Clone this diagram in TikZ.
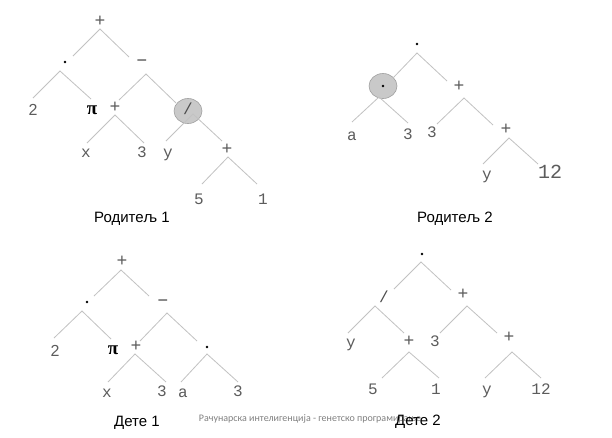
\documentclass[tikz,border=0pt]{standalone}
\usepackage{fontspec}
\setmainfont{Liberation Sans}
\newfontfamily\monofont{Liberation Mono}
\newfontfamily\pifont{Liberation Serif}
\newfontfamily\footfont{Carlito}
\usetikzlibrary{shapes.geometric}

\definecolor{edgegray}{HTML}{C2C2C2}
\definecolor{leafgray}{HTML}{5C5C5C}
\definecolor{markfill}{HTML}{C9C9C9}
\definecolor{markline}{HTML}{A0A0A0}

\tikzset{
  edge/.style={draw=edgegray, line width=0.8pt},
  leaf/.style={inner sep=0pt, text=leafgray, font=\monofont\fontsize{16}{16}\selectfont,
               text height=0.6em, text depth=0pt},
  bigleaf/.style={leaf, font=\monofont\fontsize{20}{20}\selectfont},
  op/.style={leaf, font=\monofont\fontsize{18}{18}\selectfont},
  slash/.style={leaf, text=black!70, font=\monofont\fontsize{16}{16}\selectfont},
  minus/.style={inner sep=0pt, text=black!70, font=\fontsize{18}{18}\selectfont},
  num/.style={leaf, font=\fontsize{16}{16}\selectfont},
  dotop/.style={circle, fill=black, inner sep=0pt, minimum size=2.8pt},
  pinode/.style={inner sep=0pt, font=\pifont\bfseries\fontsize{19}{19}\selectfont,
                 text height=0.45em, text depth=0pt},
  marked/.style={ellipse, fill=markfill, draw=markline, line width=0.6pt,
                 minimum width=28pt, minimum height=25pt, inner sep=0pt},
  caption/.style={inner sep=0pt, font=\fontsize{15}{15}\selectfont},
  footer/.style={inner sep=0pt, text=black!50, font=\footfont\fontsize{10}{10}\selectfont},
}

\begin{document}
\begin{tikzpicture}[x=1pt, y=-1pt]
\useasboundingbox[fill=white] (0,0) rectangle (612,437);

% ---------- Родитељ 1 ----------
\node[op]     (p1r)   at (100,23)  {+};
\node[dotop]  (p1m)   at (65,62)   {};
\node[minus]  (p1s)   at (142,63)  {−};
\node[num]    (p1two) at (33,112)  {2};
\node[pinode] (p1pi)  at (92,112)  {π};
\node[op]     (p1p)   at (115,109) {+};
\node[marked] (p1d)   at (188,111) {};
\node[slash]  (p1d-t) at (188,111) {/};
\node[leaf]   (p1x)   at (86,154)  {x};
\node[leaf]   (p1t)   at (142,154) {3};
\node[leaf]   (p1y)   at (168,154) {y};
\node[op]     (p1q)   at (227,151) {+};
\node[leaf]   (p1f)   at (199,201) {5};
\node[leaf]   (p1o)   at (263,201) {1};
\node[caption] (p1c)  at (132,219) {Родитељ 1};

\coordinate (p1r-a) at (100,29);  \coordinate (p1m-e) at (73,56);   \coordinate (p1s-e) at (129,57);
\coordinate (p1m-a) at (60,71);   \coordinate (p1two-e) at (33,98); \coordinate (p1pi-e) at (91,99);
\coordinate (p1s-a) at (146,74);  \coordinate (p1p-e) at (119,100); \coordinate (p1d-e) at (176,103);
\coordinate (p1p-a) at (115,115); \coordinate (p1x-e) at (87,143);  \coordinate (p1t-e) at (144,143);
\coordinate (p1d-a) at (193,114); \coordinate (p1y-e) at (166,141); \coordinate (p1q-e) at (222,141);
\coordinate (p1q-a) at (228,157); \coordinate (p1f-e) at (202,184); \coordinate (p1o-e) at (257,184);

\draw[edge] (p1m-e) -- (p1r-a) -- (p1s-e);
\draw[edge] (p1two-e) -- (p1m-a) -- (p1pi-e);
\draw[edge] (p1p-e) -- (p1s-a) -- (p1d-e);
\draw[edge] (p1x-e) -- (p1p-a) -- (p1t-e);
\draw[edge] (p1y-e) -- (p1d-a) -- (p1q-e);
\draw[edge] (p1f-e) -- (p1q-a) -- (p1o-e);

% ---------- Родитељ 2 ----------
\node[dotop]  (p2r)   at (417,44)  {};
\node[marked] (p2m)   at (383,86)  {};
\node[dotop]  (p2m-t) at (383,86)  {};
\node[op]     (p2p)   at (459,88)  {+};
\node[leaf]   (p2a)   at (352,137) {a};
\node[leaf]   (p2t)   at (408,136) {3};
\node[leaf]   (p2u)   at (432,134) {3};
\node[op]     (p2q)   at (506,131) {+};
\node[leaf]   (p2y)   at (487,176) {y};
\node[bigleaf] (p2n)  at (550,175) {12};
\node[caption] (p2c)  at (455,219) {Родитељ 2};

\coordinate (p2r-a) at (417,53);  \coordinate (p2m-e) at (393,78);  \coordinate (p2p-e) at (447,81);
\coordinate (p2m-a) at (379,97);  \coordinate (p2a-e) at (352,122); \coordinate (p2t-e) at (408,123);
\coordinate (p2p-a) at (464,98);  \coordinate (p2u-e) at (437,124); \coordinate (p2q-e) at (493,125);
\coordinate (p2q-a) at (509,138); \coordinate (p2y-e) at (483,164); \coordinate (p2n-e) at (538,164);

\draw[edge] (p2m-e) -- (p2r-a) -- (p2p-e);
\draw[edge] (p2a-e) -- (p2m-a) -- (p2t-e);
\draw[edge] (p2u-e) -- (p2p-a) -- (p2q-e);
\draw[edge] (p2y-e) -- (p2q-a) -- (p2n-e);

% ---------- Дете 1 ----------
\node[op]     (c1r)   at (122,263) {+};
\node[dotop]  (c1m)   at (87,302)  {};
\node[minus]  (c1s)   at (163,303) {−};
\node[num]    (c1two) at (55,353)  {2};
\node[pinode] (c1pi)  at (113,352) {π};
\node[op]     (c1p)   at (136,348) {+};
\node[dotop]  (c1n)   at (207,347) {};
\node[leaf]   (c1x)   at (107,394) {x};
\node[leaf]   (c1t)   at (162,393) {3};
\node[leaf]   (c1a)   at (183,394) {a};
\node[leaf]   (c1u)   at (238,393) {3};

\coordinate (c1r-a) at (121,270); \coordinate (c1m-e) at (94,296);   \coordinate (c1s-e) at (149,296);
\coordinate (c1m-a) at (82,311);  \coordinate (c1two-e) at (54,338); \coordinate (c1pi-e) at (111,339);
\coordinate (c1s-a) at (167,313); \coordinate (c1p-e) at (140,341);  \coordinate (c1n-e) at (197,341);
\coordinate (c1p-a) at (135,354); \coordinate (c1x-e) at (108,382);  \coordinate (c1t-e) at (166,382);
\coordinate (c1n-a) at (207,354); \coordinate (c1a-e) at (181,382);  \coordinate (c1u-e) at (238,382);

\draw[edge] (c1m-e) -- (c1r-a) -- (c1s-e);
\draw[edge] (c1two-e) -- (c1m-a) -- (c1pi-e);
\draw[edge] (c1p-e) -- (c1s-a) -- (c1n-e);
\draw[edge] (c1x-e) -- (c1p-a) -- (c1t-e);
\draw[edge] (c1a-e) -- (c1n-a) -- (c1u-e);

% ---------- Дете 2 ----------
\node[dotop]  (c2r)   at (422,254) {};
\node[slash]  (c2d)   at (384,299) {/};
\node[op]     (c2p)   at (463,296) {+};
\node[leaf]   (c2y)   at (351,344) {y};
\node[op]     (c2q)   at (409,343) {+};
\node[leaf]   (c2t)   at (435,343) {3};
\node[op]     (c2s)   at (509,339) {+};
\node[leaf]   (c2f)   at (373,391) {5};
\node[leaf]   (c2o)   at (436,391) {1};
\node[leaf]   (c2z)   at (487,391) {y};
\node[leaf]   (c2n)   at (541,391) {12};

\coordinate (c2r-a) at (421,262); \coordinate (c2d-e) at (394,289); \coordinate (c2p-e) at (451,290);
\coordinate (c2d-a) at (375,306); \coordinate (c2y-e) at (348,333); \coordinate (c2q-e) at (404,333);
\coordinate (c2p-a) at (467,306); \coordinate (c2t-e) at (440,333); \coordinate (c2s-e) at (497,333);
\coordinate (c2q-a) at (409,352); \coordinate (c2f-e) at (382,378); \coordinate (c2o-e) at (439,378);
\coordinate (c2s-a) at (512,352); \coordinate (c2z-e) at (485,378); \coordinate (c2n-e) at (541,378);

\draw[edge] (c2d-e) -- (c2r-a) -- (c2p-e);
\draw[edge] (c2y-e) -- (c2d-a) -- (c2q-e);
\draw[edge] (c2t-e) -- (c2p-a) -- (c2s-e);
\draw[edge] (c2f-e) -- (c2q-a) -- (c2o-e);
\draw[edge] (c2z-e) -- (c2s-a) -- (c2n-e);

% ---------- footer and captions ----------
\node[footer]  (foot) at (310,419) {Рачунарска интелигенција - генетско програмирање};
\node[caption] (c1c)  at (137,423) {Дете 1};
\node[caption] (c2c)  at (418,422) {Дете 2};
\end{tikzpicture}
\end{document}
